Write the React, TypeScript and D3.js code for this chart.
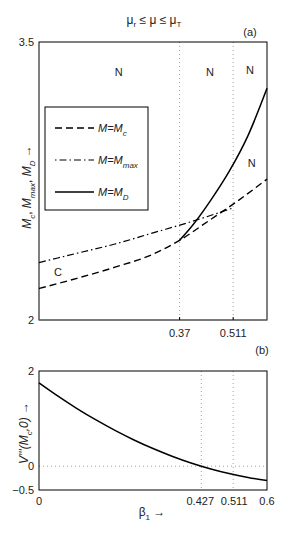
import React from "react";
import * as d3 from "d3";

// ---- data ----
const mcBeta = [0, 0.1, 0.2, 0.3, 0.37, 0.45, 0.511, 0.6];
const mcVal = [2.17, 2.225, 2.285, 2.355, 2.43, 2.54, 2.625, 2.76];
const mmaxBeta = [0, 0.1, 0.2, 0.3, 0.4, 0.511];
const mmaxVal = [2.31, 2.36, 2.41, 2.47, 2.53, 2.605];
const mdBeta = [0.37, 0.4, 0.45, 0.5, 0.55, 0.6];
const mdVal = [2.43, 2.5, 2.64, 2.8, 2.995, 3.25];
const vBeta = [0, 0.05, 0.1, 0.15, 0.2, 0.25, 0.3, 0.35, 0.4, 0.45, 0.5, 0.55, 0.6];
const vVal = [1.75, 1.471, 1.211, 0.972, 0.752, 0.551, 0.371, 0.21, 0.068, -0.053, -0.155, -0.237, -0.302];

const topXTicks = [0.37, 0.511];
const topYTicks = [2, 3.5];
const botXTicks = [0, 0.427, 0.511, 0.6];
const botXTickLabels = ["0", "0.427", "0.511", "0.6"];
const botYTicks = [-0.5, 0, 2];
const botYTickLabels = ["\u22120.5", "0", "2"];
const labelBeta = [0.21, 0.45, 0.555, 0.56, 0.05];
const labelM = [3.317, 3.317, 3.325, 2.826, 2.237];
const labelText = ["N", "N", "N", "N", "C"];

const FONT = "Liberation Sans, Arial, Helvetica, sans-serif";

export default function App() {
  const L = 39, R = 267;
  const x = d3.scaleLinear().domain([0, 0.6]).range([L, R]);
  const yT = d3.scaleLinear().domain([2, 3.5]).range([320, 42]);
  const yB = d3.scaleLinear().domain([-0.5, 2]).range([490, 371]);

  const lineT = d3.line<[number, number]>().x(d => x(d[0])).y(d => yT(d[1])).curve(d3.curveMonotoneX);
  const lineB = d3.line<[number, number]>().x(d => x(d[0])).y(d => yB(d[1])).curve(d3.curveMonotoneX);

  const mc = lineT(mcBeta.map((b, i) => [b, mcVal[i]] as [number, number]))!;
  const mmax = lineT(mmaxBeta.map((b, i) => [b, mmaxVal[i]] as [number, number]))!;
  const md = lineT(mdBeta.map((b, i) => [b, mdVal[i]] as [number, number]))!;
  const vv = lineB(vBeta.map((b, i) => [b, vVal[i]] as [number, number]))!;

  const fs = 11;
  const dot = "1,3";

  return (
    <svg width={296} height={553} style={{ position: "absolute", left: 0, top: 0, background: "#fff" }} fontFamily={FONT}>
      <rect x={0} y={0} width={296} height={553} fill="#fff" />
      {/* title */}
      <text x={154} y={24} fontSize={12} textAnchor="middle" fill="#222">
        {"\u03bc"}<tspan fontSize={8} dy={3}>r</tspan><tspan dy={-3}>{" \u2264 \u03bc \u2264 \u03bc"}</tspan><tspan fontSize={8} dy={3}>T</tspan>
      </text>
      <text x={250} y={36} fontSize={fs} textAnchor="middle" fill="#222">(a)</text>

      {/* ---- top plot ---- */}
      {topXTicks.map(t => (
        <line key={"gx" + t} x1={x(t)} x2={x(t)} y1={42} y2={320} stroke="#888" strokeWidth={0.8} strokeDasharray={dot} />
      ))}
      <path d={mc} fill="none" stroke="#000" strokeWidth={1.4} strokeDasharray="7,4" />
      <path d={mmax} fill="none" stroke="#000" strokeWidth={1.2} strokeDasharray="7,3,1.5,3" />
      <path d={md} fill="none" stroke="#000" strokeWidth={1.5} />
      <rect x={L} y={42} width={R - L} height={278} fill="none" stroke="#000" strokeWidth={1} />
      <line x1={L} x2={R} y1={320} y2={320} stroke="#777" strokeWidth={1.2} />
      {topYTicks.map(t => (
        <text key={"ty" + t} x={34} y={yT(t) + 4} fontSize={fs} textAnchor="end" fill="#222">{t}</text>
      ))}
      {topXTicks.map(t => (
        <g key={"tx" + t}>
          <line x1={x(t)} x2={x(t)} y1={320} y2={317} stroke="#000" />
          <text x={x(t)} y={337} fontSize={fs} textAnchor="middle" fill="#222">{t}</text>
        </g>
      ))}
      {/* region labels */}
      {labelText.map((t, i) => (
        <text key={"lab" + i} x={x(labelBeta[i])} y={yT(labelM[i])} fontSize={fs} textAnchor="middle" fill="#222">{t}</text>
      ))}

      {/* legend */}
      <rect x={45} y={107} width={103} height={103} fill="#fff" stroke="#000" strokeWidth={1} />
      <line x1={55} x2={94} y1={128} y2={128} stroke="#000" strokeWidth={1.4} strokeDasharray="7,4" />
      <line x1={55} x2={94} y1={160} y2={160} stroke="#000" strokeWidth={1.2} strokeDasharray="1.5,3,7,3" />
      <line x1={55} x2={94} y1={192} y2={192} stroke="#000" strokeWidth={1.5} />
      <text x={98} y={132} fontSize={fs} fill="#222" fontStyle="italic">M=M<tspan fontSize={8} dy={4}>c</tspan></text>
      <text x={98} y={164} fontSize={fs} fill="#222" fontStyle="italic">M=M<tspan fontSize={8} dy={4}>max</tspan></text>
      <text x={98} y={196} fontSize={fs} fill="#222" fontStyle="italic">M=M<tspan fontSize={8} dy={4}>D</tspan></text>

      {/* top y label */}
      <text transform="translate(31,187) rotate(-90)" fontSize={12} textAnchor="middle" fill="#222">
        <tspan fontStyle="italic">M</tspan><tspan fontSize={8} dy={4} fontStyle="italic">c</tspan><tspan dy={-4}>,  </tspan>
        <tspan fontStyle="italic">M</tspan><tspan fontSize={8} dy={4} fontStyle="italic">max</tspan><tspan dy={-4}>,  </tspan>
        <tspan fontStyle="italic">M</tspan><tspan fontSize={8} dy={4} fontStyle="italic">D</tspan><tspan dy={-4}>{" \u2192"}</tspan>
      </text>

      {/* ---- bottom plot ---- */}
      <text x={262} y={354} fontSize={fs} textAnchor="middle" fill="#222">(b)</text>
      {[0.427, 0.511].map(t => (
        <line key={"bgx" + t} x1={x(t)} x2={x(t)} y1={371} y2={490} stroke="#888" strokeWidth={0.8} strokeDasharray={dot} />
      ))}
      <line x1={L} x2={R} y1={yB(0)} y2={yB(0)} stroke="#888" strokeWidth={0.8} strokeDasharray={dot} />
      <path d={vv} fill="none" stroke="#000" strokeWidth={1.5} />
      <rect x={L} y={371} width={R - L} height={119} fill="none" stroke="#000" strokeWidth={1} />
      {botYTicks.map((t, i) => (
        <text key={"by" + t} x={34} y={yB(t) + 4} fontSize={fs} textAnchor="end" fill="#222">{botYTickLabels[i]}</text>
      ))}
      {botXTicks.map((t, i) => (
        <text key={"bx" + t} x={x(t) + (t === 0.427 ? -1 : t === 0.511 ? 1 : 0)} y={505} fontSize={fs} textAnchor="middle" fill="#222">{botXTickLabels[i]}</text>
      ))}
      <text x={152} y={516} fontSize={12} textAnchor="middle" fill="#222">
        {"\u03b2"}<tspan fontSize={8} dy={4}>1</tspan><tspan dy={-4}>{" \u2192"}</tspan>
      </text>
      <text transform="translate(28,433) rotate(-90)" fontSize={12} textAnchor="middle" fill="#222">
        <tspan fontStyle="italic">V'''(M</tspan><tspan fontSize={8} dy={4} fontStyle="italic">c</tspan><tspan dy={-4} fontStyle="italic">,0)</tspan><tspan>{" \u2192"}</tspan>
      </text>
    </svg>
  );
}
